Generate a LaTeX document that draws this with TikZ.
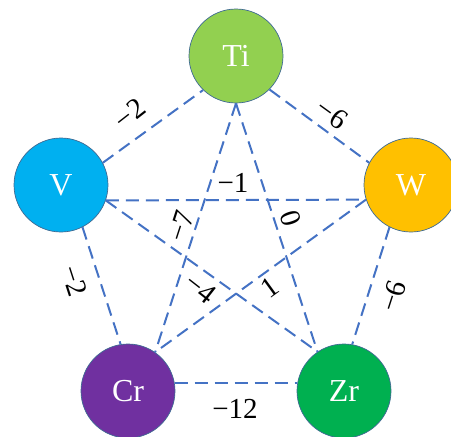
\documentclass[tikz,border=0pt]{standalone}
\usepackage{fontspec}
\setmainfont{Liberation Serif}
\usetikzlibrary{positioning}

\definecolor{tiGreen}{HTML}{92D050}
\definecolor{vBlue}{HTML}{00B0F0}
\definecolor{wGold}{HTML}{FFC000}
\definecolor{crPurple}{HTML}{7030A0}
\definecolor{zrGreen}{HTML}{00B050}
\definecolor{rimBlue}{HTML}{3F6A93}
\definecolor{bondBlue}{HTML}{4472C4}

\begin{document}
\begin{tikzpicture}[
    x=1pt, y=1pt,
    element/.style={circle, draw=rimBlue, line width=0.7pt, minimum size=94pt, inner sep=0pt, text=white, font=\fontsize{32}{34}\selectfont},
    bond/.style={draw=bondBlue, dash pattern=on 13pt off 7pt, line width=2pt},
    energy/.style={inner sep=1pt, font=\fontsize{29}{31}\selectfont}
  ]
    \useasboundingbox (0,0) rectangle (451,-437);

    \node[element, fill=tiGreen] (Ti) at (236,-56) {Ti};
    \node[element, fill=vBlue] (V) at (61,-185) {V};
    \node[element, fill=wGold] (W) at (411,-185) {W};
    \node[element, fill=crPurple] (Cr) at (128,-391) {Cr};
    \node[element, fill=zrGreen] (Zr) at (344,-391) {Zr};

    % outer ring
    \draw[bond] (V.28) -- (Ti.226);
    \draw[bond] (Ti.-45) -- (W.152);
    \draw[bond] (V.-63) -- (Cr.99);
    \draw[bond] (W.-117) -- (Zr.80);
    \draw[bond] (Cr.10) -- (Zr.170);
    % star
    \draw[bond] (V.-19) -- (W.198);
    \draw[bond] (V.-19) -- (Zr.124);
    \draw[bond] (Ti.-90) -- (Cr.55);
    \draw[bond] (Ti.-90) -- (Zr.124);
    \draw[bond] (W.198) -- (Cr.55);

    \node[energy, rotate=38] (eTiV) at (130,-114) {−2};
    \node[energy, rotate=-36] (eTiW) at (332,-114) {−6};
    \node[energy] (eVW) at (233,-183) {−1};
    \node[energy, rotate=72] (eTiCr) at (181,-226) {−7};
    \node[energy, rotate=-72] (eTiZr) at (291,-218) {0};
    \node[energy, rotate=-38] (eVZr) at (201,-288) {−4};
    \node[energy, rotate=36] (eWCr) at (270,-287) {1};
    \node[energy, rotate=-72] (eVCr) at (74,-281) {−2};
    \node[energy, rotate=72] (eWZr) at (393,-296) {−6};
    \node[energy] (eCrZr) at (235,-409) {−12};
\end{tikzpicture}
\end{document}
